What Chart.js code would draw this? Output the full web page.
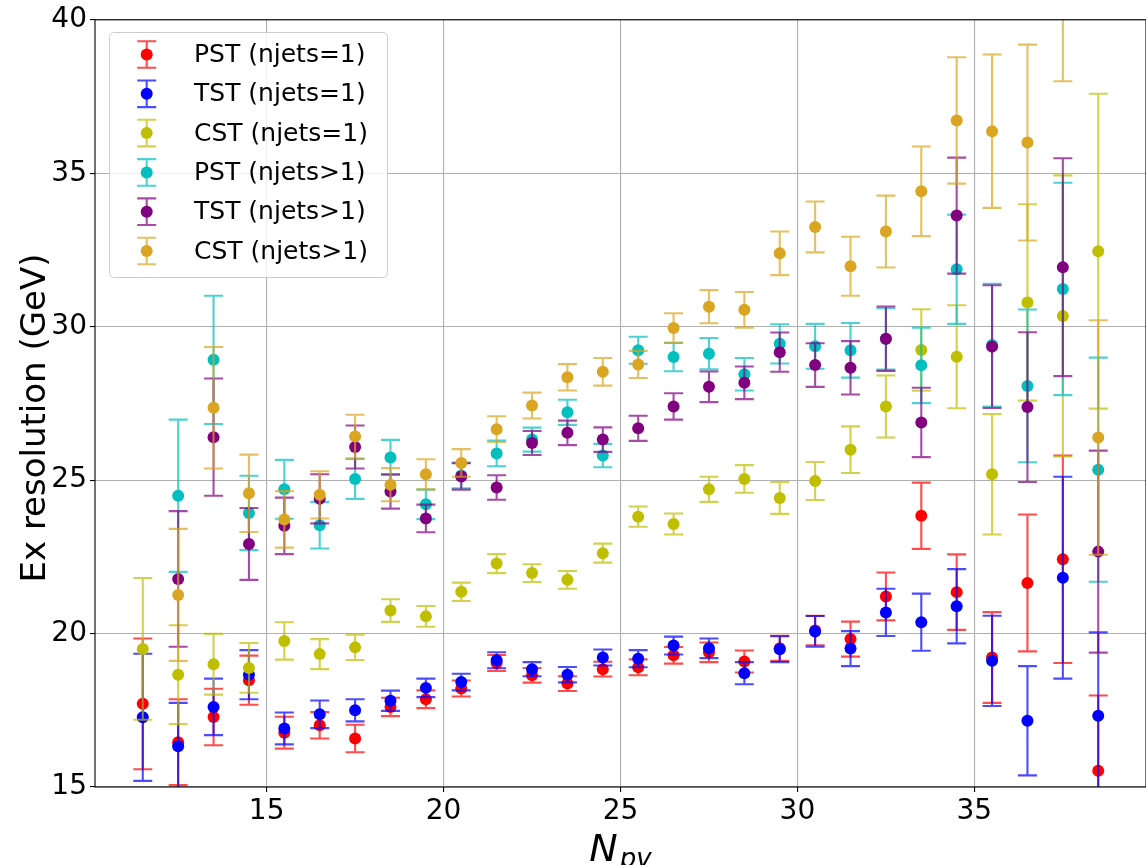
<!DOCTYPE html>
<html><head><meta charset="utf-8">
<script src="https://cdn.jsdelivr.net/npm/chart.js@4.4.1/dist/chart.umd.min.js"></script>
<style>
html,body{margin:0;padding:0;background:#fff;overflow:hidden;width:1146px;height:865px;}
#wrap{position:relative;width:1152px;height:865px;}
canvas{display:block;}
</style></head><body>
<div id="wrap"><canvas id="c" width="1152" height="865"></canvas></div>
<script>
// ---- data ----
const npv = [11.5,12.5,13.5,14.5,15.5,16.5,17.5,18.5,19.5,20.5,21.5,22.5,23.5,24.5,25.5,26.5,27.5,28.5,29.5,30.5,31.5,32.5,33.5,34.5,35.5,36.5,37.5,38.5];

const pstJ1    = [17.71,16.46,17.28,18.48,16.77,17.01,16.58,17.61,17.86,18.21,19.04,18.64,18.37,18.84,18.90,19.29,19.39,19.09,19.52,20.10,19.82,21.21,23.84,21.35,19.22,21.65,22.42,15.53];
const pstJ1Err = [2.13,1.40,0.92,0.80,0.52,0.43,0.45,0.30,0.29,0.26,0.26,0.24,0.24,0.24,0.26,0.27,0.32,0.36,0.41,0.48,0.57,0.78,1.08,1.23,1.48,2.23,3.38,2.45];

const tstJ1    = [17.27,16.33,17.61,18.66,16.91,17.37,17.50,17.81,18.23,18.42,19.13,18.84,18.66,19.22,19.18,19.61,19.52,18.71,19.49,20.07,19.51,20.69,20.37,20.89,19.11,17.16,21.82,17.32];
const tstJ1Err = [2.07,1.41,0.92,0.80,0.52,0.45,0.36,0.33,0.30,0.27,0.26,0.23,0.25,0.26,0.28,0.29,0.32,0.36,0.42,0.50,0.57,0.77,0.93,1.21,1.47,1.78,3.29,2.72];

const cstJ1    = [19.50,18.66,19.00,18.88,19.76,19.33,19.55,20.75,20.56,21.36,22.28,21.97,21.75,22.62,23.81,23.57,24.70,25.04,24.42,24.97,25.99,27.40,29.24,29.02,25.19,30.79,30.35,32.46];
const cstJ1Err = [2.31,1.61,0.99,0.81,0.61,0.49,0.41,0.37,0.34,0.30,0.31,0.29,0.29,0.31,0.33,0.34,0.41,0.45,0.52,0.62,0.76,1.01,1.33,1.68,1.96,3.20,4.58,5.13];

const pstJ2    = [null,24.49,28.92,23.93,24.70,23.53,25.04,25.74,24.21,25.15,25.87,26.32,27.21,25.80,29.23,29.01,29.12,28.45,29.44,29.36,29.23,29.60,28.74,31.87,29.40,28.07,31.23,25.34];
const pstJ2Err = [null,2.48,2.09,1.21,0.96,0.76,0.65,0.57,0.48,0.42,0.42,0.39,0.41,0.38,0.44,0.46,0.51,0.53,0.64,0.73,0.89,1.00,1.23,1.78,2.00,2.49,3.46,3.65];

const tstJ2    = [null,21.78,26.40,22.92,23.51,24.39,26.08,24.63,23.75,25.12,24.76,26.21,26.54,26.32,26.69,27.40,28.04,28.17,29.17,28.75,28.66,29.61,26.88,33.62,29.35,27.38,31.94,22.67];
const tstJ2Err = [null,2.21,1.91,1.17,0.92,0.80,0.70,0.56,0.45,0.43,0.40,0.39,0.40,0.40,0.41,0.43,0.50,0.53,0.64,0.71,0.87,1.05,1.13,1.89,2.00,2.44,3.55,3.29];

const cstJ2    = [null,21.26,27.36,24.57,23.72,24.52,26.42,24.85,25.19,25.56,26.66,27.43,28.35,28.53,28.77,29.96,30.65,30.55,32.39,33.25,31.97,33.10,34.41,36.72,36.37,36.00,42.00,26.39];
const cstJ2Err = [null,2.15,1.98,1.26,0.92,0.77,0.71,0.54,0.49,0.45,0.42,0.42,0.43,0.45,0.44,0.48,0.54,0.58,0.71,0.83,0.96,1.17,1.46,2.06,2.50,3.19,4.00,3.82];

const seriesLabels = ['PST (njets=1)','TST (njets=1)','CST (njets=1)','PST (njets>1)','TST (njets>1)','CST (njets>1)'];
const seriesColors = ['#ff0000','#0000ff','#bfbf00','#00bfbf','#800080','#daa520'];
const seriesValues = [pstJ1,tstJ1,cstJ1,pstJ2,tstJ2,cstJ2];
const seriesErrors = [pstJ1Err,tstJ1Err,cstJ1Err,pstJ2Err,tstJ2Err,cstJ2Err];

const xTicks = [15,20,25,30,35];
const yTicks = [15,20,25,30,35,40];
const xTitle = 'N', xTitleSub = 'pv';
const yTitle = 'Ex resolution (GeV)';

// ---- helpers ----
const FONT = '"DejaVu Sans", "Liberation Sans", sans-serif';
function rgba(hex, a){
  const n = parseInt(hex.slice(1),16);
  return `rgba(${(n>>16)&255},${(n>>8)&255},${n&255},${a})`;
}
const CAP = 9.5, ERR_ALPHA = 0.7, ERR_LW = 2.1, DOT_R = 6;

function drawErrSymbol(ctx, x, yLo, yHi, color){
  ctx.strokeStyle = rgba(color, ERR_ALPHA);
  ctx.lineWidth = ERR_LW;
  ctx.beginPath();
  ctx.moveTo(x, yLo); ctx.lineTo(x, yHi);
  ctx.moveTo(x-CAP, yLo); ctx.lineTo(x+CAP, yLo);
  ctx.moveTo(x-CAP, yHi); ctx.lineTo(x+CAP, yHi);
  ctx.stroke();
}

const errorBarPlugin = {
  id: 'errbars',
  beforeDatasetDraw(chart, args){
    const ds = chart.data.datasets[args.index];
    const xs = chart.scales.x, ys = chart.scales.y;
    const ctx = chart.ctx, a = chart.chartArea;
    ctx.save();
    ctx.beginPath(); ctx.rect(a.left, a.top, a.right-a.left, a.bottom-a.top); ctx.clip();
    ds.data.forEach(p => {
      const px = xs.getPixelForValue(p.x);
      drawErrSymbol(ctx, px, ys.getPixelForValue(p.y - p.e), ys.getPixelForValue(p.y + p.e), ds.backgroundColor);
    });
    ctx.restore();
  }
};

const framePlugin = {
  id: 'frame',
  afterDatasetsDraw(chart){
    const ctx = chart.ctx, a = chart.chartArea;
    ctx.save();
    ctx.strokeStyle = '#000'; ctx.lineWidth = 1.1;
    ctx.strokeRect(a.left, a.top, a.right-a.left, a.bottom-a.top);
    ctx.restore();
  },
  afterDraw(chart){
    const ctx = chart.ctx, a = chart.chartArea;
    ctx.save();
    // legend
    const bx = 109.5, by = 32.5, bw = 278, bh = 245, r = 5;
    ctx.beginPath();
    ctx.moveTo(bx+r, by); ctx.lineTo(bx+bw-r, by); ctx.quadraticCurveTo(bx+bw, by, bx+bw, by+r);
    ctx.lineTo(bx+bw, by+bh-r); ctx.quadraticCurveTo(bx+bw, by+bh, bx+bw-r, by+bh);
    ctx.lineTo(bx+r, by+bh); ctx.quadraticCurveTo(bx, by+bh, bx, by+bh-r);
    ctx.lineTo(bx, by+r); ctx.quadraticCurveTo(bx, by, bx+r, by);
    ctx.closePath();
    ctx.fillStyle = 'rgba(255,255,255,0.8)'; ctx.fill();
    ctx.strokeStyle = '#cccccc'; ctx.lineWidth = 1; ctx.stroke();
    chart.data.datasets.forEach((ds, i) => {
      const cy = 54.5 + i*39.3, cx = 146.7;
      drawErrSymbol(ctx, cx, cy+13.3, cy-13.3, ds.backgroundColor);
      ctx.beginPath(); ctx.arc(cx, cy, DOT_R, 0, Math.PI*2);
      ctx.fillStyle = ds.backgroundColor; ctx.fill();
      ctx.fillStyle = '#000';
      ctx.font = '25px ' + FONT;
      ctx.textAlign = 'left'; ctx.textBaseline = 'middle';
      ctx.fillText(ds.label, 194, cy + 1);
    });
    // y title
    ctx.save();
    ctx.translate(45, 418);
    ctx.rotate(-Math.PI/2);
    ctx.font = '34px ' + FONT;
    ctx.textAlign = 'center'; ctx.textBaseline = 'alphabetic';
    ctx.fillStyle = '#000';
    ctx.fillText(yTitle, 0, 0);
    ctx.restore();
    // x title (N_pv)
    ctx.fillStyle = '#000';
    ctx.textAlign = 'left'; ctx.textBaseline = 'alphabetic';
    ctx.font = 'italic 38px ' + FONT;
    const nW = ctx.measureText(xTitle).width;
    ctx.font = 'italic 26px ' + FONT;
    const sW = ctx.measureText(xTitleSub).width;
    const x0 = (a.left + a.right)/2 - (nW + sW + 2)/2;
    ctx.font = 'italic 38px ' + FONT;
    ctx.fillText(xTitle, x0, 861);
    ctx.font = 'italic 26px ' + FONT;
    ctx.fillText(xTitleSub, x0 + nW + 2, 867);
    ctx.restore();
  }
};

const datasets = seriesLabels.map((lab, s) => ({
  label: lab,
  data: npv.map((x, i) => seriesValues[s][i] == null ? null : {x: x, y: seriesValues[s][i], e: seriesErrors[s][i]}).filter(p => p),
  backgroundColor: seriesColors[s],
  borderColor: seriesColors[s],
  borderWidth: 0,
  pointRadius: DOT_R,
  pointHoverRadius: DOT_R,
  showLine: false,
  order: seriesLabels.length - 1 - s
}));

new Chart(document.getElementById('c'), {
  type: 'scatter',
  data: { datasets },
  plugins: [errorBarPlugin, framePlugin],
  options: {
    responsive: false,
    animation: false,
    devicePixelRatio: 1,
    layout: { padding: { left: 0, right: 4, top: 18, bottom: 0 } },
    plugins: { legend: { display: false }, tooltip: { enabled: false } },
    events: [],
    scales: {
      x: {
        type: 'linear', min: 10.15, max: 39.85,
        afterBuildTicks: s => { s.ticks = xTicks.map(v => ({value: v})); },
        afterFit: s => { s.height = 78; },
        grid: { color: '#b0b0b0', lineWidth: 1.1, tickColor: '#000', tickLength: 5, drawTicks: true },
        border: { display: false },
        ticks: { color: '#000', font: { family: FONT, size: 28 }, padding: 3, maxRotation: 0, autoSkip: false }
      },
      y: {
        type: 'linear', min: 15, max: 40,
        afterBuildTicks: s => { s.ticks = yTicks.map(v => ({value: v})); },
        afterFit: s => { s.width = 95; },
        grid: { color: '#b0b0b0', lineWidth: 1.1, tickColor: '#000', tickLength: 5, drawTicks: true },
        border: { display: false },
        ticks: { color: '#000', font: { family: FONT, size: 28 }, padding: 3, autoSkip: false }
      }
    }
  }
});
</script>
</body></html>
